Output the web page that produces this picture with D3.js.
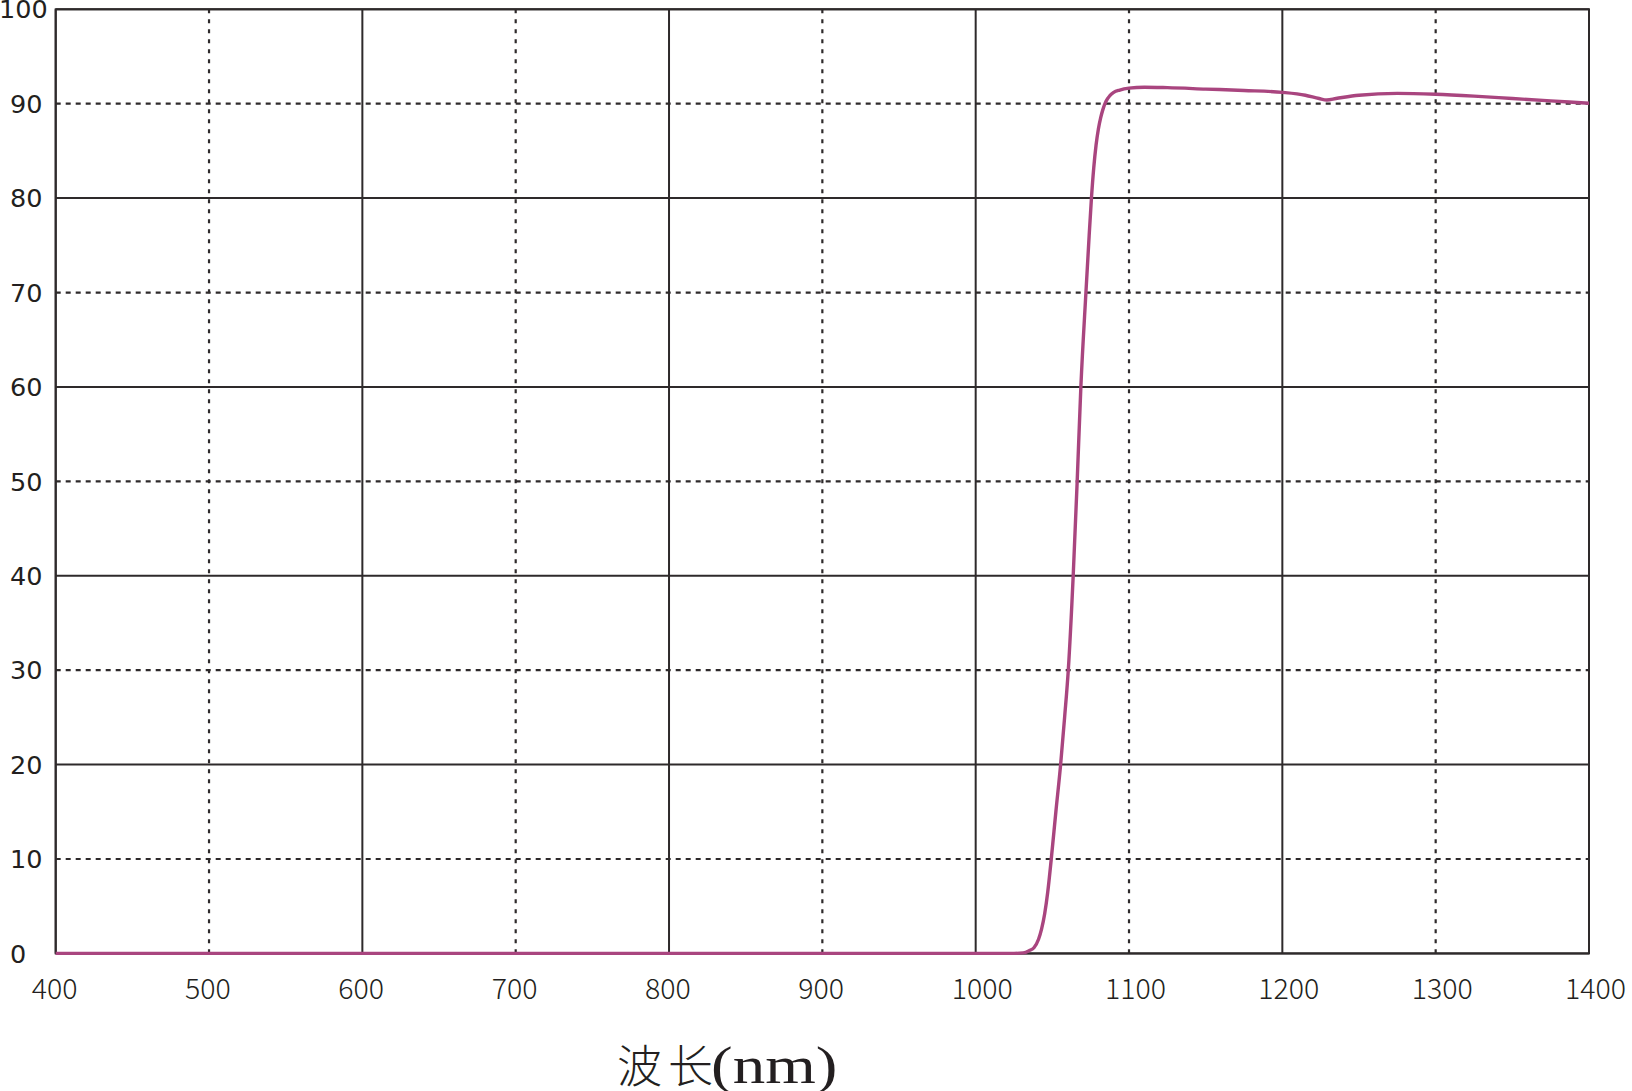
<!DOCTYPE html>
<html>
<head>
<meta charset="utf-8">
<script src="https://cdn.jsdelivr.net/npm/d3@7"></script>
<style>
  body { margin: 0; background: #fff; }
  svg { display: block; }
</style>
</head>
<body>
<script>
// transmission curve
const wavelength = [400, 500, 600, 700, 800, 900, 1000, 1025, 1031, 1035, 1038, 1041, 1043, 1045, 1047, 1049.3, 1052.3, 1055.4, 1058, 1060.4, 1063.6, 1066.2, 1068.6, 1071.9, 1074, 1075.5, 1077, 1078.5, 1080, 1081.5, 1083, 1085, 1087.5, 1090, 1094, 1100, 1110, 1125, 1150, 1175, 1200, 1215, 1224, 1229, 1235, 1250, 1275, 1300, 1325, 1350, 1375, 1400]
const transmit = [0, 0, 0, 0, 0, 0, 0, 0, 0.05, 0.3, 0.6, 1.5, 2.6, 4.2, 6.5, 10, 15, 20, 25, 30, 40, 50, 60, 70, 76, 80, 83.2, 85.6, 87.3, 88.5, 89.4, 90.25, 90.85, 91.2, 91.45, 91.65, 91.75, 91.7, 91.55, 91.4, 91.2, 90.9, 90.55, 90.4, 90.55, 90.9, 91.1, 91.0, 90.8, 90.55, 90.3, 90.05]

const xTicks = [400, 500, 600, 700, 800, 900, 1000, 1100, 1200, 1300, 1400]
const yTicks = [0, 10, 20, 30, 40, 50, 60, 70, 80, 90, 100]
const xTitle = ['波', '长', '(nm)']

const width = 1632
const height = 1091
const plotLeft = 55.7
const plotRight = 1589
const plotTop = 9.3
const plotBottom = 953.4

const x = d3.scaleLinear().domain([400, 1400]).range([plotLeft, plotRight])
const y = d3.scaleLinear().domain([0, 100]).range([plotBottom, plotTop])

const gridColor = '#2e2a2b'

let svg = d3.select('body')
  .append('svg')
  .attr('width', width)
  .attr('height', height)

//vertical grid, solid every 200, dotted in between
svg.append('g')
  .selectAll('line')
  .data(xTicks)
  .enter()
  .append('line')
  .attr('x1', (d) => x(d))
  .attr('x2', (d) => x(d))
  .attr('y1', plotTop)
  .attr('y2', plotBottom)
  .attr('stroke', gridColor)
  .attr('stroke-width', (d) => d % 200 === 0 ? 2 : 2.2)
  .attr('stroke-dasharray', (d) => d % 200 === 0 ? null : '4,6')

//horizontal grid, solid every 20, dashed in between
svg.append('g')
  .selectAll('line')
  .data(yTicks)
  .enter()
  .append('line')
  .attr('x1', plotLeft)
  .attr('x2', plotRight)
  .attr('y1', (d) => y(d))
  .attr('y2', (d) => y(d))
  .attr('stroke', gridColor)
  .attr('stroke-width', (d) => d % 20 === 0 ? 2 : 2.2)
  .attr('stroke-dasharray', (d) => d % 20 === 0 ? null : '5,5')

//frame
svg.append('rect')
  .attr('x', plotLeft)
  .attr('y', plotTop)
  .attr('width', plotRight - plotLeft)
  .attr('height', plotBottom - plotTop)
  .attr('fill', 'none')
  .attr('stroke', gridColor)
  .attr('stroke-width', 2)

//y labels
svg.append('g')
  .selectAll('text')
  .data(yTicks)
  .enter()
  .append('text')
  .attr('x', (d) => d === 100 ? -1 : 10)
  .attr('y', (d) => y(d))
  .attr('dy', '0.36em')
  .attr('font-family', 'DejaVu Sans, sans-serif')
  .attr('font-size', '25.5px')
  .attr('fill', '#231f20')
  .text((d) => d)

//x labels
svg.append('g')
  .selectAll('text')
  .data(xTicks)
  .enter()
  .append('text')
  .attr('x', (d) => x(d) - 24)
  .attr('y', 999)
  .attr('font-family', 'Noto Sans CJK SC, Noto Sans, sans-serif')
  .attr('font-weight', 300)
  .attr('font-size', '28.5px')
  .attr('fill', '#231f20')
  .text((d) => d)

//curve
const pts = wavelength.map((w, i) => [w, transmit[i]])
svg.append('path')
  .datum(pts)
  .attr('fill', 'none')
  .attr('stroke', '#a9457f')
  .attr('stroke-width', 3.4)
  .attr('stroke-linejoin', 'round')
  .attr('d', d3.line()
    .x((d) => x(d[0]))
    .y((d) => y(d[1]))
    .curve(d3.curveMonotoneX))

//axis title
let title = svg.append('text')
  .attr('y', 1083)
  .attr('fill', '#231f20')
  .attr('font-family', 'Noto Sans CJK SC, sans-serif')
  .attr('font-weight', 300)
  .attr('font-size', '45px')
title.append('tspan')
  .attr('x', 617)
  .text(xTitle[0])
title.append('tspan')
  .attr('x', 668)
  .text(xTitle[1])

//unit part is wider in the original, stretch it a bit
svg.append('text')
  .attr('transform', 'translate(711,1083) scale(1.25,1)')
  .attr('fill', '#231f20')
  .attr('font-family', 'Liberation Serif, serif')
  .attr('font-size', '52px')
  .text(xTitle[2])
</script>
</body>
</html>
